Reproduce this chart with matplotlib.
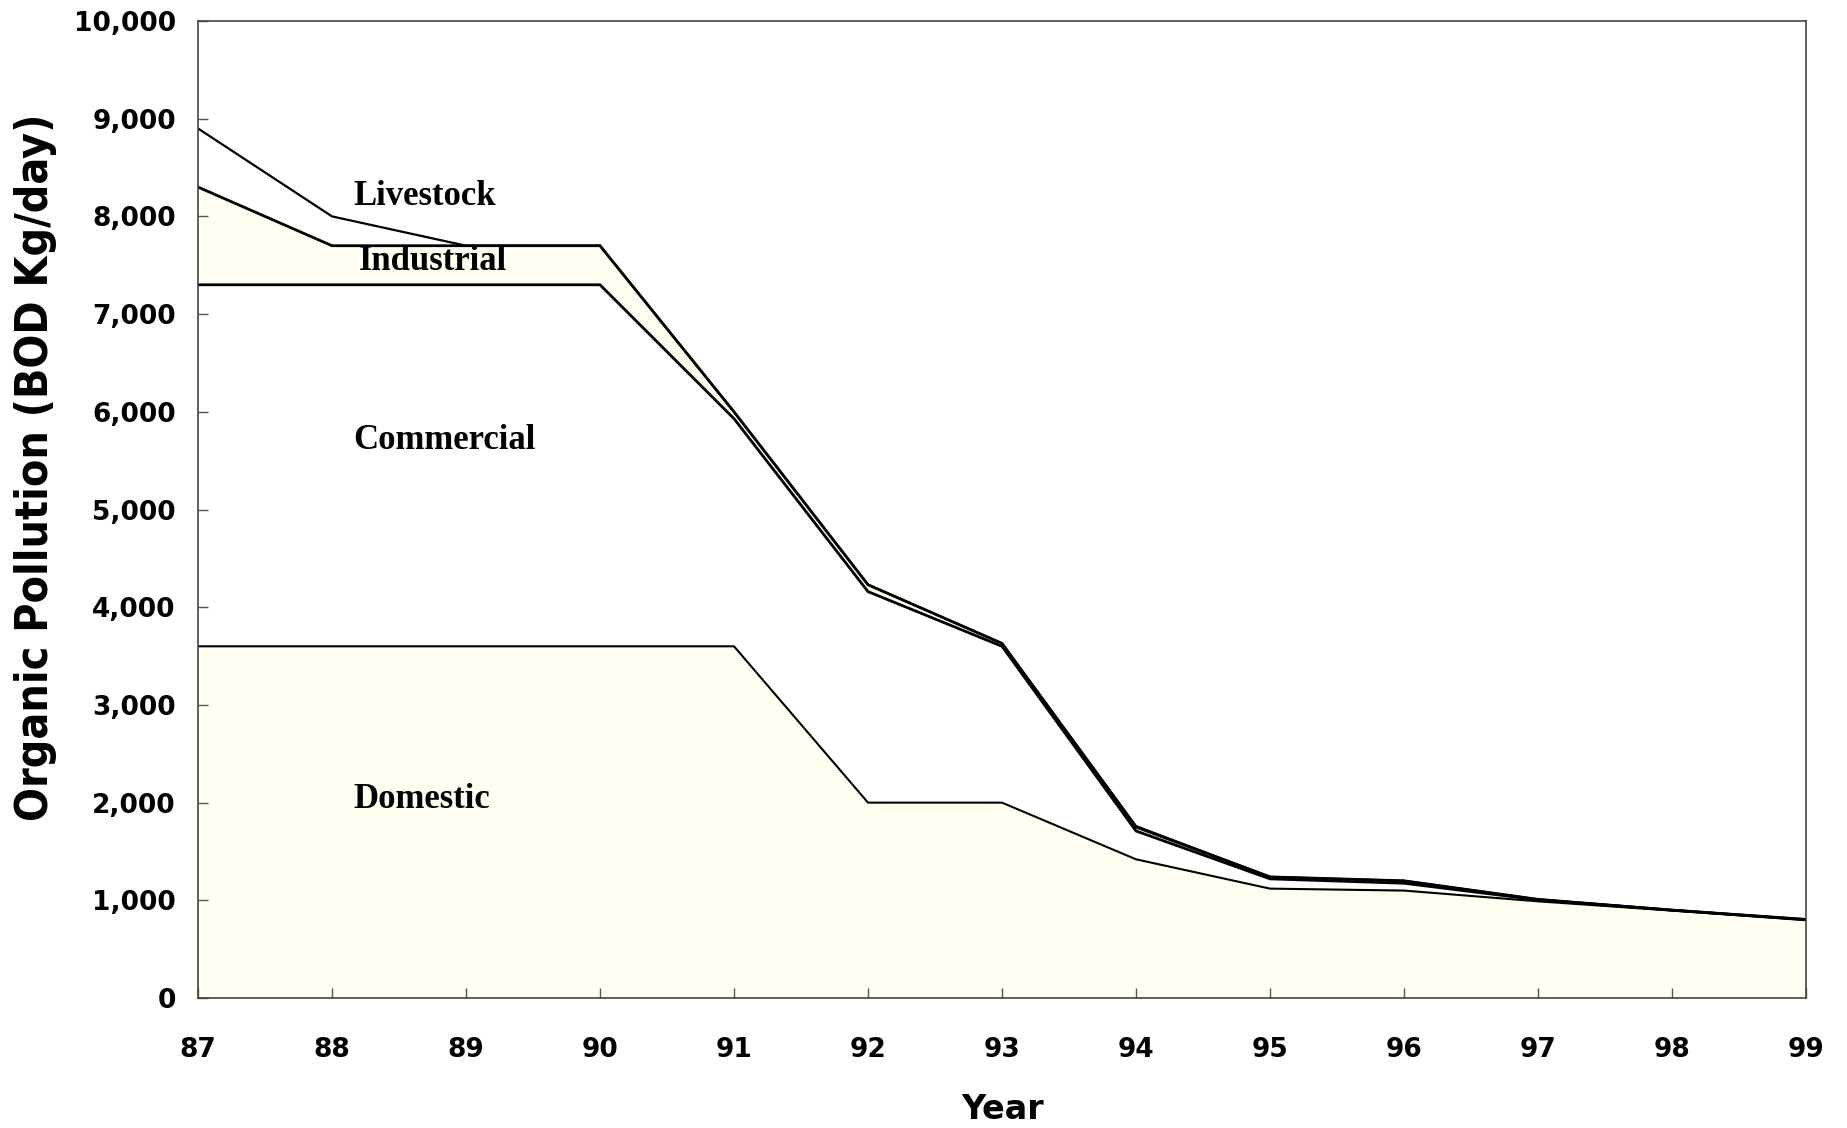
import numpy as np
import matplotlib
matplotlib.use('Agg')
import matplotlib.pyplot as plt

# datos (BOD kg/dia por fuente)
years = [87, 88, 89, 90, 91, 92, 93, 94, 95, 96, 97, 98, 99]
domestic = [3600, 3600, 3600, 3600, 3600, 2000, 2000, 1420, 1120, 1100, 990, 895, 800]
commercial = [3700, 3700, 3700, 3700, 2330, 2160, 1600, 290, 100, 75, 15, 5, 0]
industrial = [1000, 400, 400, 400, 70, 70, 30, 40, 20, 25, 5, 0, 5]
livestock = [600, 300, 0, 0, 0, 0, 0, 10, 0, 0, 0, 0, 0]
labels = ['Domestic', 'Commercial', 'Industrial', 'Livestock']
label_pos = [(88.16, 2030), (88.16, 5710), (88.2, 7540), (88.16, 8200)]

cream = '#fffff0'
capas = [domestic, commercial, industrial, livestock]
fills = [cream, 'white', cream, 'white']
widths = [1.5, 2.0, 2.0, 1.6]

fig = plt.figure(figsize=(18.47, 11.28), dpi=100)
ax = fig.add_axes([0.1072, 0.1152, 0.8706, 0.8662])

base = np.zeros(len(years))
for capa, color in zip(capas, fills):
    top = base + np.array(capa)
    ax.fill_between(years, base, top, color=color, lw=0)
    base = top

# lineas acumuladas
base = np.zeros(len(years))
for capa, lw in zip(capas, widths):
    base = base + np.array(capa)
    ax.plot(years, base, color='black', lw=lw, solid_joinstyle='miter')

for txt, (x, y) in zip(labels, label_pos):
    ax.text(x, y, txt, fontsize=25, fontweight='bold', family='Liberation Serif',
            ha='left', va='center')

ax.set_xlim(87, 99)
ax.set_ylim(0, 10000)
ax.set_xticks(years)
ax.set_xticklabels([str(y) for y in years])
ax.set_yticks(range(0, 10001, 1000))
ax.set_yticklabels(['{:,}'.format(v) for v in range(0, 10001, 1000)])
ax.tick_params(direction='in', length=7, width=1, color='#555555')
ax.tick_params(axis='y', pad=16)
ax.tick_params(axis='x', pad=28)
for lab in ax.get_xticklabels() + ax.get_yticklabels():
    lab.set_fontsize(19)
    lab.set_fontweight('bold')
for s in ax.spines.values():
    s.set_color('#444444')
    s.set_linewidth(1.2)

ax.set_xlabel('Year', fontsize=24, fontweight='bold')
ax.xaxis.set_label_coords(0.5006, -0.097)
ax.set_ylabel('Organic Pollution (BOD Kg/day)', fontsize=32, fontweight='bold',
              family='DejaVu Sans', fontstretch='condensed')
ax.yaxis.set_label_coords(-0.0875, 0.543)

fig.savefig('out.png', dpi=100)
